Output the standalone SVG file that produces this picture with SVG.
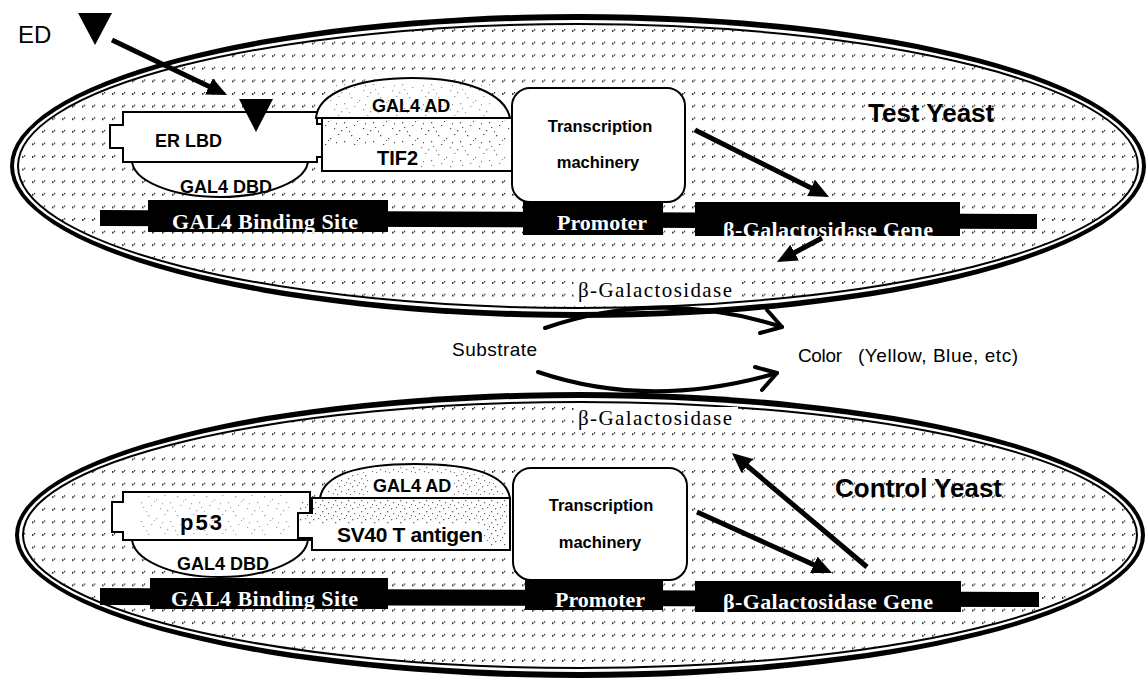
<svg xmlns="http://www.w3.org/2000/svg" width="1146" height="679" viewBox="0 0 1146 679">
  <defs>
    <!-- stippled cytoplasm fill -->
    <pattern id="dots" width="10" height="12.6" patternUnits="userSpaceOnUse">
      <rect x="2" y="5" width="1.5" height="1.5"/>
      <rect x="4" y="4" width="1.2" height="1.2"/>
    </pattern>
    <!-- irregular speckle used on protein domains -->
    <pattern id="speck" width="29" height="19" patternUnits="userSpaceOnUse">
      <rect x="3" y="2" width="1.3" height="1.3"/>
      <rect x="11" y="5" width="1.2" height="1.2"/>
      <rect x="19" y="1" width="1.4" height="1"/>
      <rect x="25" y="8" width="1.2" height="1.3"/>
      <rect x="6" y="11" width="1.3" height="1"/>
      <rect x="15" y="14" width="1.2" height="1.2"/>
      <rect x="22" y="16" width="1.3" height="1.3"/>
      <rect x="1" y="17" width="1" height="1.2"/>
      <rect x="9" y="7" width="1" height="1"/>
      <rect x="27" y="13" width="1.2" height="1"/>
      <rect x="17" y="9" width="1" height="1.3"/>
    </pattern>
    <pattern id="speckDense" width="13" height="11" patternUnits="userSpaceOnUse">
      <rect x="1" y="2" width="1.3" height="1.3"/>
      <rect x="6" y="1" width="1.2" height="1"/>
      <rect x="10" y="5" width="1.3" height="1.3"/>
      <rect x="3" y="7" width="1.2" height="1.2"/>
      <rect x="8" y="9" width="1" height="1.2"/>
      <rect x="12" y="10" width="1" height="1"/>
    </pattern>
    <marker id="ah" markerUnits="userSpaceOnUse" markerWidth="22" markerHeight="20" refX="10" refY="9" orient="auto">
      <path d="M0,0 L20,9 L0,18 Z" fill="#000"/>
    </marker>
    <clipPath id="clipGeneTop"><rect x="695" y="202" width="265" height="34"/></clipPath>
    <clipPath id="clipGeneBot"><rect x="695" y="581" width="266" height="31"/></clipPath>
  </defs>
  <style>
    .sans{font-family:"Liberation Sans",Arial,sans-serif;fill:#000}
    .b{font-weight:bold}
    .serif{font-family:"Liberation Serif","Times New Roman",serif}
    .wt{fill:#fff;font-weight:bold}
    .box{fill:#fff;stroke:#000;stroke-width:2}
    .arr{stroke:#000;stroke-width:5;fill:none;marker-end:url(#ah)}
    .curve{stroke:#000;stroke-width:4;fill:none;stroke-linecap:round;stroke-linejoin:round}
  </style>

  <rect width="1146" height="679" fill="#fff"/>

  <!-- ===== Test yeast cell ===== -->
  <g id="test-yeast-cell">
    <ellipse cx="578" cy="166" rx="568" ry="152" fill="#000"/>
    <ellipse cx="578" cy="166" rx="564" ry="146" fill="#fff"/>
    <ellipse cx="578" cy="166" rx="560" ry="142" fill="url(#dots)" stroke="#000" stroke-width="2"/>
    <text class="sans b" x="868" y="122" font-size="26">Test Yeast</text>
  </g>

  <!-- ===== Control yeast cell ===== -->
  <g id="control-yeast-cell">
    <ellipse cx="580" cy="535" rx="565" ry="143" fill="#000"/>
    <ellipse cx="580" cy="535" rx="561" ry="137" fill="#fff"/>
    <ellipse cx="580" cy="535" rx="557" ry="133" fill="url(#dots)" stroke="#000" stroke-width="2"/>
    <text class="sans b" x="835" y="497" font-size="26" textLength="167">Control Yeast</text>
  </g>

  <!-- ===== Test yeast contents ===== -->
  <g id="top-dna">
    <polygon points="100,210 1037,214 1037,229 100,226" fill="#000"/>
    <rect x="148" y="200" width="240" height="32" fill="#000"/>
    <rect x="523" y="202" width="140" height="33" fill="#000"/>
    <rect x="695" y="202" width="265" height="34" fill="#000"/>
    <text class="serif wt" x="172" y="229" font-size="22" textLength="186">GAL4 Binding Site</text>
    <text class="serif wt" x="557" y="230" font-size="22" textLength="90">Promoter</text>
    <text class="serif wt" x="723" y="237" font-size="22" textLength="210" clip-path="url(#clipGeneTop)">β-Galactosidase Gene</text>
  </g>

  <g id="top-gal4-dbd">
    <ellipse cx="220" cy="160" rx="88" ry="37" class="box"/>
    <text class="sans b" x="180" y="193" font-size="18">GAL4 DBD</text>
  </g>

  <g id="top-er-lbd">
    <path class="box" d="M123,112 H317 V124 H322 V157 H317 V162 H123 V148 H110 V125 H123 Z"/>
    <text class="sans b" x="155" y="147" font-size="18">ER LBD</text>
  </g>

  <g id="top-gal4-ad">
    <path class="box" d="M316,118 C318,92 360,78 412,78 C468,78 505,94 510,118 Z"/>
    <rect x="330" y="84" width="160" height="32" fill="url(#speck)" opacity="0.4"/>
    <text class="sans b" x="372" y="112" font-size="18">GAL4 AD</text>
  </g>

  <g id="top-tif2">
    <rect class="box" x="322" y="118" width="190" height="53"/>
    <rect x="324" y="120" width="186" height="26" fill="url(#speck)" opacity="0.7"/>
    <rect x="420" y="146" width="88" height="22" fill="url(#speck)" opacity="0.5"/>
    <text class="sans b" x="377" y="165" font-size="20">TIF2</text>
  </g>

  <g id="top-transcription">
    <rect class="box" x="512" y="88" width="173" height="114" rx="18"/>
    <text class="sans b" x="600" y="132" font-size="16.5" text-anchor="middle">Transcription</text>
    <text class="sans b" x="598" y="168" font-size="16.5" text-anchor="middle">machinery</text>
  </g>

  <g id="ligand">
    <text class="sans" x="18" y="43" font-size="24">ED</text>
    <polygon points="78,13 112,13 95,45" fill="#000"/>
    <polygon points="239,99 273,99 256,132" fill="#000"/>
  </g>

  <!-- ===== Control yeast contents ===== -->
  <g id="bottom-dna">
    <polygon points="100,588 1039,592 1039,607 100,605" fill="#000"/>
    <rect x="150" y="578" width="238" height="31" fill="#000"/>
    <rect x="525" y="580" width="138" height="30" fill="#000"/>
    <rect x="695" y="581" width="266" height="31" fill="#000"/>
    <text class="serif wt" x="171" y="606" font-size="22" textLength="187">GAL4 Binding Site</text>
    <text class="serif wt" x="555" y="607" font-size="22" textLength="90">Promoter</text>
    <text class="serif wt" x="723" y="609" font-size="22" textLength="210" clip-path="url(#clipGeneBot)">β-Galactosidase Gene</text>
  </g>

  <g id="bottom-gal4-dbd">
    <ellipse cx="220" cy="538" rx="88" ry="39" class="box"/>
    <text class="sans b" x="177" y="570" font-size="18">GAL4 DBD</text>
  </g>

  <g id="bottom-p53">
    <path class="box" d="M123,492 H310 V520 H298 V537 H310 V540 H123 V532 H112 V502 H123 Z"/>
    <rect x="140" y="495" width="150" height="40" fill="url(#speck)" opacity="0.35"/>
    <text class="sans b" x="180" y="530" font-size="22" textLength="42">p53</text>
  </g>

  <g id="bottom-gal4-ad">
    <path class="box" d="M320,498 C324,474 360,464 415,464 C470,464 506,474 510,498 Z"/>
    <path d="M326,496 C330,476 362,467 415,467 C468,467 502,476 506,496 Z" fill="url(#speckDense)" opacity="0.55"/>
    <rect x="368" y="474" width="86" height="22" fill="#fff"/>
    <text class="sans b" x="373" y="492" font-size="18">GAL4 AD</text>
  </g>

  <g id="bottom-sv40">
    <path class="box" d="M312,498 H510 V550 H312 V538 H298 V513 H312 Z"/>
    <rect x="300" y="500" width="208" height="24" fill="url(#speckDense)" opacity="0.6"/>
    <rect x="484" y="524" width="22" height="22" fill="url(#speckDense)" opacity="0.6"/>
    <text class="sans b" x="337" y="542" font-size="21" textLength="146">SV40 T antigen</text>
  </g>

  <g id="bottom-transcription">
    <rect class="box" x="513" y="468" width="174" height="112" rx="18"/>
    <text class="sans b" x="601" y="511" font-size="16.5" text-anchor="middle">Transcription</text>
    <text class="sans b" x="600" y="548" font-size="16.5" text-anchor="middle">machinery</text>
  </g>

  <!-- ===== Enzyme reaction between the cells ===== -->
  <g id="reaction">
    <rect x="574" y="279" width="164" height="22" fill="#fff"/>
    <text class="serif" x="578" y="297" font-size="21" textLength="154">β-Galactosidase</text>
    <rect x="574" y="407" width="164" height="24" fill="#fff"/>
    <text class="serif" x="578" y="425" font-size="21" textLength="154">β-Galactosidase</text>
    <text class="sans" x="452" y="356" font-size="19" textLength="85">Substrate</text>
    <text class="sans" x="798" y="362" font-size="19" textLength="44">Color</text>
    <text class="sans" x="858" y="362" font-size="19" textLength="160">(Yellow, Blue, etc)</text>
  </g>

  <!-- ===== Connectors ===== -->
  <g id="connectors">
    <line class="arr" x1="112" y1="40" x2="218" y2="90.7"/>
    <line class="arr" x1="695" y1="130" x2="820.1" y2="192.5"/>
    <line class="arr" x1="822" y1="238" x2="785.8" y2="257.3"/>
    <line class="arr" x1="697" y1="512" x2="822.9" y2="568.9"/>
    <line class="arr" x1="867" y1="567" x2="739.6" y2="459.5"/>
    <path class="curve" d="M545,328 Q660,288 782,327"/>
    <polyline class="curve" points="767,310 782,327 760,333"/>
    <path class="curve" d="M538,372 Q650,410 777,373"/>
    <polyline class="curve" points="755,367 777,373 762,390"/>
  </g>
</svg>
